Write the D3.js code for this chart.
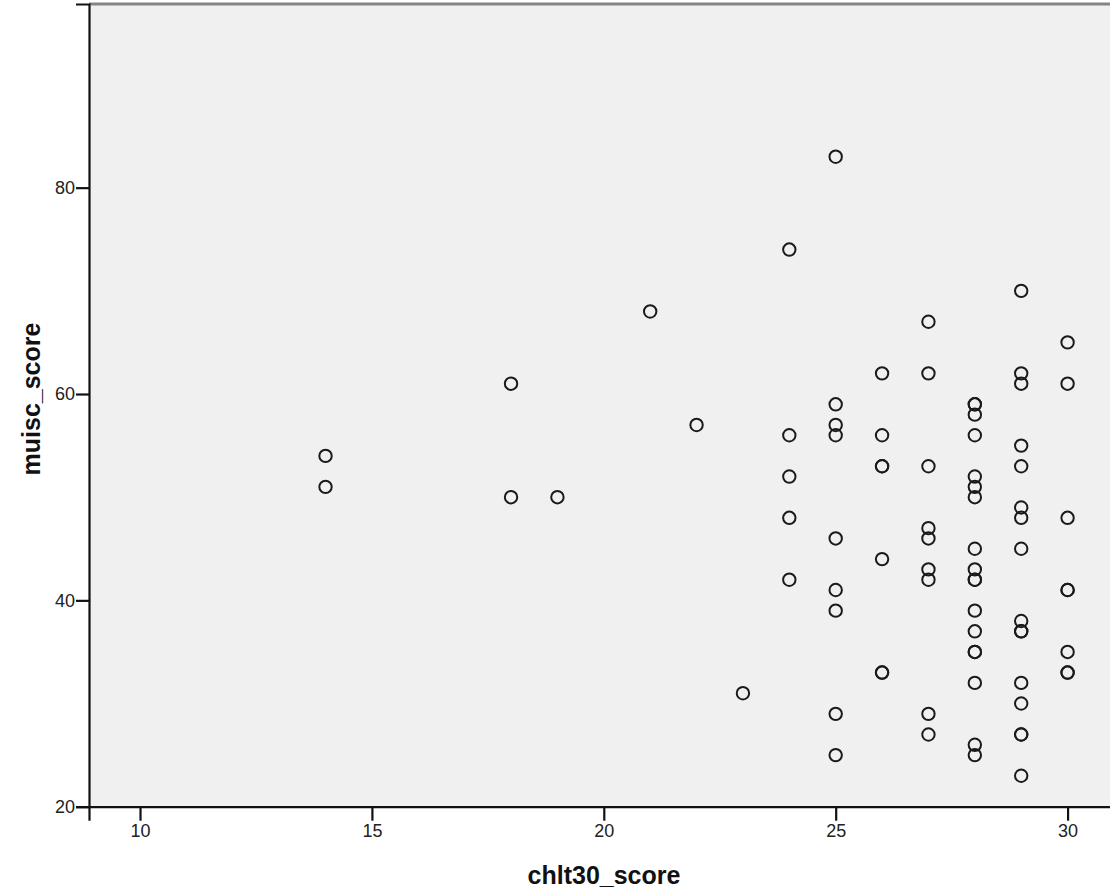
<!DOCTYPE html>
<html>
<head>
<meta charset="utf-8">
<script src="https://cdn.jsdelivr.net/npm/d3@7"></script>
<style>
    body { margin: 0; background: #fff; }
    svg { display: block; }
</style>
</head>
<body>
<script>
// chlt30_score (x) and muisc_score (y), one entry per case
var chlt30 = [14, 14, 18, 18, 19, 21, 22, 23,
    24, 24, 24, 24, 24,
    25, 25, 25, 25, 25, 25, 25, 25, 25,
    26, 26, 26, 26, 26, 26, 26,
    27, 27, 27, 27, 27, 27, 27, 27, 27,
    28, 28, 28, 28, 28, 28, 28, 28, 28, 28, 28, 28, 28, 28, 28, 28, 28, 28,
    29, 29, 29, 29, 29, 29, 29, 29, 29, 29, 29, 29, 29, 29, 29, 29,
    30, 30, 30, 30, 30, 30, 30, 30];
var muisc = [54, 51, 61, 50, 50, 68, 57, 31,
    74, 56, 52, 48, 42,
    83, 59, 57, 56, 46, 41, 39, 29, 25,
    62, 56, 53, 53, 44, 33, 33,
    67, 62, 53, 47, 46, 43, 42, 29, 27,
    59, 59, 58, 56, 52, 51, 50, 45, 43, 42, 42, 39, 37, 35, 35, 32, 26, 25,
    70, 62, 61, 55, 53, 49, 48, 45, 38, 37, 37, 32, 30, 27, 27, 23,
    65, 61, 48, 41, 41, 35, 33, 33];

var xTicks = [10, 15, 20, 25, 30];
var yTicks = [20, 40, 60, 80];

function init() {
    var w = 1110;
    var h = 895;

    var left = 89, right = 1118.6; // plot runs past the right edge
    var top = 4, bottom = 806.7;

    var xScale = d3.scaleLinear()
        .domain([8.9, 31.1])
        .range([left, right]);

    var yScale = d3.scaleLinear()
        .domain([20, 97.8])
        .range([bottom, top]);

    var svg = d3.select("body")
        .append("svg")
        .attr("width", w)
        .attr("height", h);

    // plot background
    svg.append("rect")
        .attr("x", left)
        .attr("y", top)
        .attr("width", right - left)
        .attr("height", bottom - top)
        .attr("fill", "#f0f0f0");

    // grey frame line along the top
    svg.append("line")
        .attr("x1", left)
        .attr("x2", right)
        .attr("y1", top)
        .attr("y2", top)
        .attr("stroke", "#858585")
        .attr("stroke-width", 3);

    // points (duplicates drawn on top of each other, like SPSS)
    svg.selectAll("circle")
        .data(chlt30)
        .enter()
        .append("circle")
        .attr("cx", function (d) { return xScale(d); })
        .attr("cy", function (d, i) { return yScale(muisc[i]); })
        .attr("r", 6.2)
        .attr("fill", "none")
        .attr("stroke", "#1a1a1a")
        .attr("stroke-width", 2);

    // x axis
    var xAxis = svg.append("g")
        .attr("transform", "translate(0," + bottom + ")")
        .call(d3.axisBottom(xScale)
            .tickValues(xTicks)
            .tickFormat(d3.format("d"))
            .tickSizeOuter(0)
            .tickSize(14)
            .tickPadding(4));

    // y axis
    var yAxis = svg.append("g")
        .attr("transform", "translate(" + left + ",0)")
        .call(d3.axisLeft(yScale)
            .tickValues(yTicks)
            .tickFormat(d3.format("d"))
            .tickSizeOuter(0)
            .tickSize(13)
            .tickPadding(1));

    [xAxis, yAxis].forEach(function (g) {
        g.select(".domain")
            .attr("stroke", "#111")
            .attr("stroke-width", 2.2);
        g.selectAll(".tick line")
            .attr("stroke", "#111")
            .attr("stroke-width", 2.2);
        g.selectAll(".tick text")
            .attr("fill", "#222")
            .attr("font-family", "'Liberation Sans', Arial, sans-serif")
            .attr("font-size", 18);
    });

    // axis titles
    svg.append("text")
        .attr("x", 604)
        .attr("y", 884)
        .attr("text-anchor", "middle")
        .attr("font-family", "'Liberation Sans', Arial, sans-serif")
        .attr("font-weight", "bold")
        .attr("font-size", 25)
        .attr("fill", "#111")
        .text("chlt30_score");

    svg.append("text")
        .attr("transform", "translate(40,399) rotate(-90)")
        .attr("text-anchor", "middle")
        .attr("font-family", "'Liberation Sans', Arial, sans-serif")
        .attr("font-weight", "bold")
        .attr("font-size", 25)
        .attr("fill", "#111")
        .text("muisc_score");
}
window.onload = init;
</script>
</body>
</html>
